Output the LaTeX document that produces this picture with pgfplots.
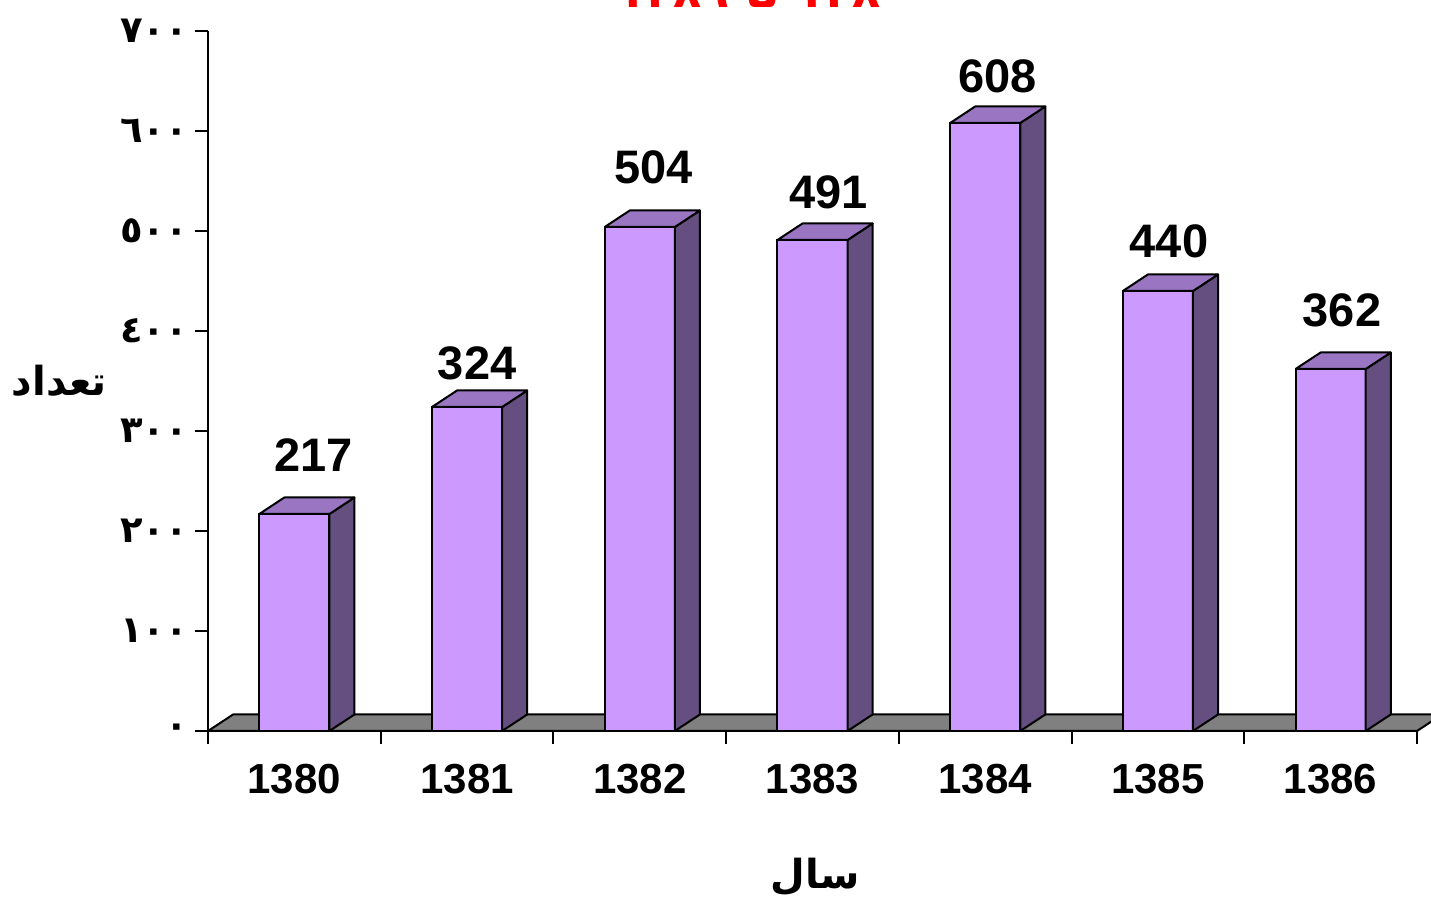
\documentclass[border=0pt]{standalone}
\usepackage{fontspec}
\setmainfont{Liberation Sans}
\newfontfamily\arabicfont[Script=Arabic]{DejaVu Sans}
\TeXXeTstate=1
\usepackage{pgfplots}
\pgfplotsset{compat=1.18}
\definecolor{barfront}{HTML}{CC99FF}
\definecolor{bartop}{HTML}{9A76C2}
\definecolor{barside}{HTML}{654F80}
\definecolor{floorgray}{HTML}{808080}
\begin{document}
\begin{tikzpicture}
\begin{axis}[
  name=ax,
  scale only axis, width=604.5pt, height=350pt,
  xmin=0, xmax=7, ymin=0, ymax=700,
  clip=false,
  axis lines*=left,
  axis line style={line width=1pt, black},
  tick style={line width=1pt, black},
  major tick length=6.5pt,
  tick align=outside,
  /pgf/number format/assume math mode=true,
  xtick={0,1,2,3,4,5,6,7},
  xticklabels={1380,1381,1382,1383,1384,1385,1386},
  x tick label as interval,
  x tick label style={font=\fontsize{21}{21}\selectfont\bfseries, yshift=-6.5pt},
  ytick={0,100,200,300,400,500,600,700},
  yticklabels={٠,١٠٠,٢٠٠,٣٠٠,٤٠٠,٥٠٠,٦٠٠,٧٠٠},
  y tick label style={font=\arabicfont\bfseries\fontsize{18.5}{18.5}\selectfont},
  ylabel={\arabicfont\bfseries تعداد},
  ylabel style={rotate=-90, at={(axis description cs:-0.123,0.5)}, anchor=center, font=\fontsize{20}{20}\selectfont},
  xlabel={\arabicfont\bfseries سال},
  xlabel style={at={(axis description cs:0.502,-0.209)}, anchor=center, font=\fontsize{20}{20}\selectfont},
  no markers,
]
% floor
\addplot[fill=floorgray, draw=black, line width=1pt, line join=round] coordinates {(0,0) (7,0) (7.145,16.5) (0.145,16.5) (0,0)};
% front faces
\addplot[ybar, bar width=0.406, fill=barfront, draw=black, line width=1pt]
  coordinates {(0.5,217) (1.5,324) (2.5,504) (3.5,491) (4.5,608) (5.5,440) (6.5,362)};
% side faces
\addplot[fill=barside, draw=black, line width=1pt, line join=round] coordinates {(0.703,0) (0.848,16.5) (0.848,233.5) (0.703,217) (0.703,0)};
\addplot[fill=barside, draw=black, line width=1pt, line join=round] coordinates {(1.703,0) (1.848,16.5) (1.848,340.5) (1.703,324) (1.703,0)};
\addplot[fill=barside, draw=black, line width=1pt, line join=round] coordinates {(2.703,0) (2.848,16.5) (2.848,520.5) (2.703,504) (2.703,0)};
\addplot[fill=barside, draw=black, line width=1pt, line join=round] coordinates {(3.703,0) (3.848,16.5) (3.848,507.5) (3.703,491) (3.703,0)};
\addplot[fill=barside, draw=black, line width=1pt, line join=round] coordinates {(4.703,0) (4.848,16.5) (4.848,624.5) (4.703,608) (4.703,0)};
\addplot[fill=barside, draw=black, line width=1pt, line join=round] coordinates {(5.703,0) (5.848,16.5) (5.848,456.5) (5.703,440) (5.703,0)};
\addplot[fill=barside, draw=black, line width=1pt, line join=round] coordinates {(6.703,0) (6.848,16.5) (6.848,378.5) (6.703,362) (6.703,0)};
% top faces
\addplot[fill=bartop, draw=black, line width=1pt, line join=round] coordinates {(0.297,217) (0.703,217) (0.848,233.5) (0.442,233.5) (0.297,217)};
\addplot[fill=bartop, draw=black, line width=1pt, line join=round] coordinates {(1.297,324) (1.703,324) (1.848,340.5) (1.442,340.5) (1.297,324)};
\addplot[fill=bartop, draw=black, line width=1pt, line join=round] coordinates {(2.297,504) (2.703,504) (2.848,520.5) (2.442,520.5) (2.297,504)};
\addplot[fill=bartop, draw=black, line width=1pt, line join=round] coordinates {(3.297,491) (3.703,491) (3.848,507.5) (3.442,507.5) (3.297,491)};
\addplot[fill=bartop, draw=black, line width=1pt, line join=round] coordinates {(4.297,608) (4.703,608) (4.848,624.5) (4.442,624.5) (4.297,608)};
\addplot[fill=bartop, draw=black, line width=1pt, line join=round] coordinates {(5.297,440) (5.703,440) (5.848,456.5) (5.442,456.5) (5.297,440)};
\addplot[fill=bartop, draw=black, line width=1pt, line join=round] coordinates {(6.297,362) (6.703,362) (6.848,378.5) (6.442,378.5) (6.297,362)};
% value labels
\addplot[draw=none, nodes near coords, point meta=explicit symbolic,
  every node near coord/.append style={font=\fontsize{23.5}{23.5}\selectfont\bfseries, anchor=south, inner sep=0pt}]
  coordinates {(0.611,259) [217] (1.558,351) [324] (2.580,547) [504] (3.593,522) [491] (4.571,638) [608] (5.564,473) [440] (6.566,404) [362]};
% title (mostly above the visible area)
\node[anchor=base, text=red, font=\arabicfont\bfseries\fontsize{23}{23}\selectfont] at (axis cs:3.213,723.5) {\beginR ١٣٨٠ تا ١٣٨٦\endR};
\end{axis}
\pgfresetboundingbox
\useasboundingbox ([shift={(-104pt,-84pt)}]ax.south west) rectangle ([shift={(611.5pt,365.5pt)}]ax.south west);
\end{tikzpicture}
\end{document}
